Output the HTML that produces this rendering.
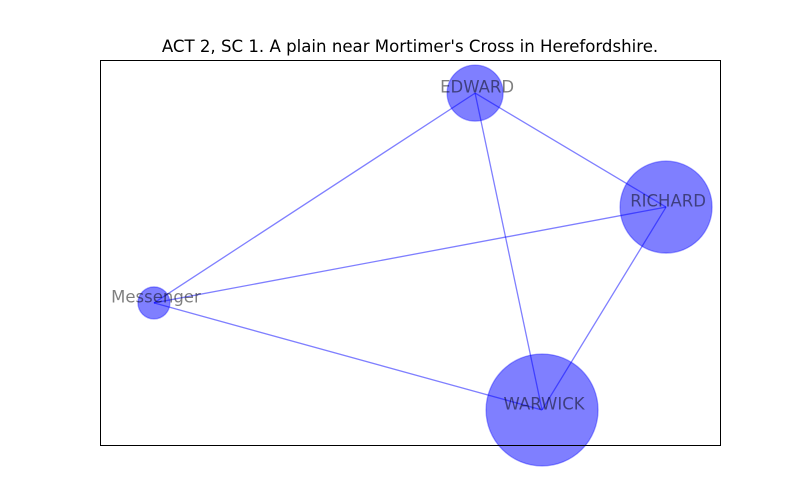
<!DOCTYPE html>
<html>
<head>
<meta charset="utf-8">
<style>
  body { margin:0; background:#fff; }
  svg { display:block; font-family:"DejaVu Sans","Liberation Sans",sans-serif; }
</style>
</head>
<body>
<svg id="chart" width="800" height="500">
  <rect width="800" height="500" fill="#fff"/>
  <text x="410" y="52" text-anchor="middle" font-size="16.6" fill="#000">ACT 2, SC 1. A plain near Mortimer's Cross in Herefordshire.</text>
  <g id="edges"></g>
  <g id="nodes"></g>
  <g id="labels"></g>
  <rect x="100.5" y="60.5" width="620" height="385" fill="none" stroke="#000" stroke-width="1"/>
</svg>
<script>
const nodeNames = ["EDWARD", "RICHARD", "Messenger", "WARWICK"];
const nodeX = [0.605, 0.913, 0.087, 0.713];
const nodeY = [0.914, 0.618, 0.369, 0.091];
const nodeRadius = [28, 46, 16, 56];
const edgeSource = [0, 0, 0, 1, 1, 2];
const edgeTarget = [2, 1, 3, 2, 3, 3];

const NS = "http://www.w3.org/2000/svg";
function sx(v) { return 100 + v * 620; }
function sy(v) { return 445 - v * 385; }

const eg = document.getElementById("edges");
for (let i = 0; i < edgeSource.length; i++) {
  const a = edgeSource[i], b = edgeTarget[i];
  const l = document.createElementNS(NS, "line");
  l.setAttribute("x1", sx(nodeX[a])); l.setAttribute("y1", sy(nodeY[a]));
  l.setAttribute("x2", sx(nodeX[b])); l.setAttribute("y2", sy(nodeY[b]));
  l.setAttribute("stroke", "rgba(0,0,255,0.5)");
  l.setAttribute("stroke-width", "1.3");
  
  
  eg.appendChild(l);
}
const ng = document.getElementById("nodes");
const lg = document.getElementById("labels");
for (let i = 0; i < nodeNames.length; i++) {
  const c = document.createElementNS(NS, "circle");
  c.setAttribute("cx", sx(nodeX[i])); c.setAttribute("cy", sy(nodeY[i]));
  c.setAttribute("r", nodeRadius[i]);
  c.setAttribute("fill", "rgba(0,0,255,0.5)");
  c.setAttribute("stroke", "rgba(0,0,255,0.35)");
  c.setAttribute("stroke-width", "1.3");
  
  
  ng.appendChild(c);
  const t = document.createElementNS(NS, "text");
  t.setAttribute("x", sx(nodeX[i]) + 2); t.setAttribute("y", sy(nodeY[i]) - 6);
  t.setAttribute("text-anchor", "middle");
  t.setAttribute("dominant-baseline", "central");
  t.setAttribute("font-size", "16.5");
  t.setAttribute("fill", "rgba(0,0,0,0.5)");
  t.textContent = nodeNames[i];
  
  
  lg.appendChild(t);
}
</script>
</body>
</html>
